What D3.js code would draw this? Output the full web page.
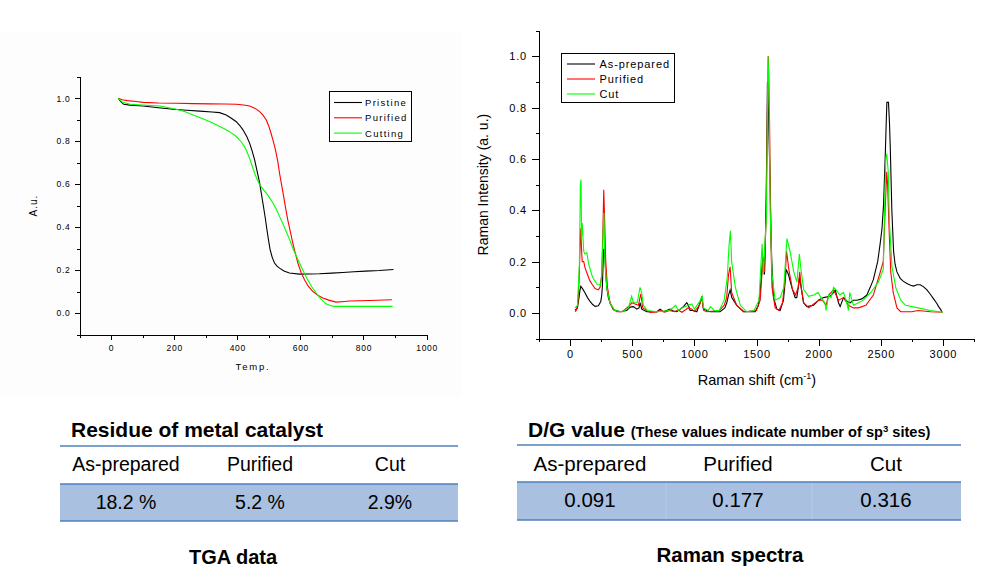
<!DOCTYPE html>
<html>
<head>
<meta charset="utf-8">
<script src="https://cdn.jsdelivr.net/npm/d3@7/dist/d3.min.js"></script>
<style>
html,body{margin:0;padding:0;background:#fff;}
svg{display:block;font-family:"Liberation Sans",Arial,sans-serif;}
</style>
</head>
<body>
<svg id="chart" width="1006" height="574"></svg>
<script>
// ---------- TGA data (temperature, weight fraction) ----------
const tgaSeries = ["Pristine", "Purified", "Cutting"];
const tgaPristine = [[23,1.0],[30,0.985],[40,0.972],[60,0.968],[102,0.964],[150,0.956],[197,0.949],[240,0.944],[281,0.940],[320,0.936],[344,0.933],[365,0.922],[380,0.908],[397,0.891],[408,0.873],[418,0.853],[430,0.822],[439,0.791],[447,0.755],[455,0.713],[463,0.66],[471,0.605],[477,0.55],[483,0.496],[489,0.44],[494,0.388],[499,0.34],[504,0.295],[511,0.258],[518,0.233],[526,0.218],[534,0.209],[548,0.196],[565,0.186],[597,0.181],[660,0.183],[700,0.186],[734,0.189],[770,0.192],[807,0.195],[850,0.198],[895,0.203]];
const tgaPurified = [[23,1.0],[35,0.993],[52,0.989],[80,0.985],[102,0.981],[150,0.978],[207,0.977],[260,0.975],[313,0.974],[360,0.973],[397,0.972],[420,0.969],[439,0.964],[457,0.953],[471,0.938],[482,0.92],[492,0.899],[500,0.87],[507,0.837],[514,0.8],[521,0.760],[528,0.71],[534,0.651],[540,0.6],[547,0.543],[553,0.49],[560,0.434],[568,0.38],[576,0.326],[584,0.278],[592,0.233],[602,0.19],[613,0.155],[625,0.125],[639,0.101],[655,0.083],[671,0.070],[690,0.060],[713,0.051],[740,0.054],[755,0.056],[820,0.058],[890,0.062]];
const tgaCutting = [[23,1.0],[35,0.983],[60,0.972],[100,0.968],[155,0.964],[207,0.949],[235,0.937],[260,0.922],[287,0.907],[313,0.891],[340,0.872],[365,0.853],[380,0.840],[397,0.822],[411,0.800],[423,0.775],[431,0.750],[439,0.721],[447,0.686],[455,0.651],[463,0.622],[471,0.597],[481,0.578],[492,0.558],[503,0.535],[513,0.512],[524,0.482],[534,0.450],[545,0.415],[555,0.380],[566,0.342],[576,0.302],[587,0.266],[597,0.233],[610,0.193],[623,0.155],[636,0.122],[650,0.093],[665,0.066],[681,0.043],[695,0.035],[707,0.031],[800,0.031],[892,0.031]];
const tgaXMajor = [0,200,400,600,800,1000];
const tgaXMinor = [-100,100,300,500,700,900];
const tgaYMajor = [0.0,0.2,0.4,0.6,0.8,1.0];
const tgaYMinor = [-0.1,0.1,0.3,0.5,0.7,0.9,1.1];

// ---------- Raman data (shift cm-1, intensity a.u.) ----------
const ramanSeries = ["As-prepared", "Purified", "Cut"];
const ramanAsPrepared = [[40,0.01],[59,0.02],[72,0.06],[80,0.09],[86,0.104],[100,0.095],[121,0.078],[140,0.06],[161,0.045],[180,0.034],[201,0.026],[228,0.028],[247,0.045],[255,0.07],[260,0.104],[265,0.18],[270,0.25],[276,0.24],[282,0.207],[288,0.15],[295,0.10],[308,0.06],[322,0.039],[349,0.013],[402,0.005],[456,0.01],[483,0.023],[510,0.025],[537,0.015],[555,0.02],[563,0.04],[577,0.015],[617,0.005],[698,0.005],[724,0.015],[751,0.005],[805,0.015],[830,0.008],[859,0.005],[912,0.025],[939,0.04],[952,0.03],[966,0.01],[993,0.01],[1020,0.005],[1046,0.04],[1060,0.065],[1073,0.015],[1127,0.005],[1207,0.005],[1245,0.02],[1261,0.04],[1275,0.07],[1288,0.09],[1301,0.06],[1341,0.03],[1395,0.005],[1489,0.005],[1515,0.03],[1529,0.08],[1545,0.18],[1551,0.22],[1564,0.15],[1572,0.3],[1578,0.45],[1584,0.7],[1588,0.9],[1594,0.86],[1600,0.7],[1610,0.5],[1617,0.3],[1623,0.2],[1637,0.06],[1664,0.015],[1690,0.01],[1717,0.05],[1730,0.12],[1739,0.17],[1757,0.15],[1784,0.10],[1811,0.06],[1824,0.06],[1840,0.11],[1846,0.14],[1859,0.10],[1878,0.04],[1905,0.025],[1959,0.03],[1999,0.05],[2039,0.06],[2093,0.065],[2120,0.08],[2133,0.09],[2160,0.04],[2173,0.025],[2200,0.06],[2230,0.045],[2254,0.04],[2280,0.05],[2307,0.05],[2348,0.055],[2388,0.07],[2415,0.1],[2440,0.13],[2455,0.16],[2475,0.2],[2495,0.27],[2510,0.33],[2522,0.42],[2535,0.6],[2545,0.76],[2549,0.82],[2562,0.82],[2570,0.74],[2576,0.65],[2589,0.4],[2603,0.24],[2615,0.19],[2630,0.16],[2656,0.135],[2680,0.124],[2710,0.115],[2740,0.108],[2764,0.105],[2790,0.11],[2817,0.11],[2845,0.102],[2871,0.09],[2900,0.072],[2925,0.055],[2950,0.038],[2965,0.025],[2980,0.015],[2992,0.005]];
const ramanPurified = [[40,0.005],[50,0.01],[60,0.03],[66,0.07],[72,0.12],[80,0.25],[86,0.33],[92,0.25],[98,0.2],[110,0.2],[121,0.175],[140,0.15],[160,0.125],[180,0.11],[201,0.095],[228,0.09],[241,0.10],[255,0.15],[263,0.3],[271,0.48],[279,0.35],[287,0.2],[301,0.1],[322,0.04],[350,0.015],[376,0.005],[420,0.005],[456,0.02],[480,0.03],[496,0.04],[523,0.035],[550,0.03],[569,0.075],[585,0.02],[644,0.002],[700,0.004],[730,0.01],[760,0.003],[800,0.01],[840,0.005],[870,0.012],[900,0.003],[950,0.02],[980,0.015],[1000,0.005],[1040,0.03],[1060,0.06],[1075,0.01],[1100,0.005],[1200,0.01],[1240,0.03],[1260,0.06],[1275,0.15],[1288,0.18],[1300,0.08],[1340,0.03],[1400,0.005],[1500,0.01],[1530,0.05],[1550,0.2],[1565,0.16],[1578,0.4],[1588,0.8],[1595,1.0],[1605,0.75],[1615,0.3],[1625,0.1],[1650,0.02],[1680,0.01],[1710,0.04],[1730,0.14],[1742,0.24],[1760,0.17],[1790,0.09],[1815,0.07],[1835,0.1],[1848,0.16],[1860,0.1],[1880,0.04],[1920,0.02],[1960,0.035],[2000,0.05],[2030,0.05],[2060,0.03],[2080,0.07],[2120,0.09],[2160,0.05],[2200,0.06],[2240,0.03],[2280,0.02],[2320,0.02],[2380,0.03],[2440,0.07],[2490,0.15],[2520,0.2],[2535,0.4],[2548,0.55],[2555,0.5],[2565,0.35],[2580,0.16],[2600,0.08],[2630,0.02],[2660,0.005],[2750,0.005],[2800,0.01],[2900,0.005],[3000,0.003]];
const ramanCut = [[40,0.02],[60,0.03],[75,0.19],[83,0.5],[88,0.52],[93,0.3],[98,0.35],[110,0.24],[120,0.23],[135,0.235],[150,0.19],[180,0.14],[220,0.11],[245,0.11],[255,0.15],[265,0.3],[272,0.39],[280,0.2],[295,0.1],[320,0.04],[360,0.01],[420,0.005],[470,0.02],[495,0.065],[510,0.04],[540,0.04],[563,0.1],[575,0.08],[590,0.03],[620,0.01],[700,0.005],[800,0.01],[850,0.03],[870,0.01],[900,0.02],[950,0.03],[980,0.035],[1000,0.015],[1050,0.05],[1063,0.065],[1075,0.02],[1110,0.01],[1130,0.025],[1160,0.01],[1200,0.01],[1240,0.05],[1265,0.14],[1280,0.27],[1290,0.32],[1300,0.2],[1330,0.1],[1370,0.03],[1420,0.005],[1480,0.01],[1520,0.05],[1545,0.27],[1555,0.15],[1580,0.38],[1593,1.0],[1600,0.9],[1610,0.4],[1625,0.15],[1650,0.05],[1690,0.06],[1720,0.1],[1745,0.29],[1770,0.24],[1800,0.16],[1825,0.12],[1845,0.23],[1860,0.16],[1880,0.09],[1920,0.065],[1960,0.07],[1995,0.08],[2020,0.06],[2050,0.04],[2060,0.01],[2080,0.07],[2100,0.06],[2120,0.1],[2140,0.09],[2170,0.07],[2200,0.08],[2220,0.05],[2240,0.01],[2250,0.08],[2280,0.03],[2320,0.04],[2360,0.05],[2420,0.08],[2480,0.12],[2520,0.17],[2540,0.6],[2548,0.62],[2560,0.55],[2570,0.35],[2590,0.18],[2620,0.1],[2660,0.05],[2700,0.03],[2800,0.02],[2900,0.01],[3000,0.003]];
const ramanXMajor = [0,500,1000,1500,2000,2500,3000];
const ramanXMinor = [-250,250,750,1250,1750,2250,2750,3250];
const ramanYMajor = [0.0,0.2,0.4,0.6,0.8,1.0];
const ramanYMinor = [-0.1,0.1,0.3,0.5,0.7,0.9,1.1];

// ---------- tables ----------
const tableCategories = ["As-prepared", "Purified", "Cut"];
const residueValues = ["18.2 %", "5.2 %", "2.9%"];
const dgValues = ["0.091", "0.177", "0.316"];

const colors = ["#000000", "#ff0000", "#00ff00"];

const svg = d3.select("#chart");

// very light background panel behind TGA plot
svg.append("rect").attr("x",0).attr("y",33).attr("width",462).attr("height",364).attr("fill","#fdfdfd");

function drawAxes(g, x, y, opt){
  const fontCss = `font-size:${opt.font}px;letter-spacing:${opt.ls}px;font-family:"Liberation Sans",Arial,sans-serif`;
  const y0 = y.range()[0];
  const x0 = x.range()[0];
  g.append("g").attr("transform",`translate(0,${y0})`)
    .call(d3.axisBottom(x).tickValues(opt.xMajor).tickSize(opt.major).tickSizeOuter(0).tickPadding(opt.xPad).tickFormat(d3.format("d")));
  g.append("g").attr("transform",`translate(0,${y0})`)
    .call(d3.axisBottom(x).tickValues(opt.xMinor).tickSize(opt.minor).tickFormat("")).select(".domain").remove();
  g.append("g").attr("transform",`translate(${x0},0)`)
    .call(d3.axisLeft(y).tickValues(opt.yMajor).tickSize(opt.major).tickSizeOuter(0).tickPadding(opt.yPad).tickFormat(d3.format(".1f")));
  g.append("g").attr("transform",`translate(${x0},0)`)
    .call(d3.axisLeft(y).tickValues(opt.yMinor).tickSize(opt.minor).tickFormat("")).select(".domain").remove();
  g.selectAll(".tick text").attr("style",fontCss).attr("fill","#000");
  g.selectAll(".domain, .tick line").attr("stroke","#000").attr("stroke-width",1).attr("shape-rendering","crispEdges");
}

// ================= TGA chart =================
const xL = d3.scaleLinear().domain([-100,1000]).range([79.5,426.6]);
const yL = d3.scaleLinear().domain([-0.1,1.1]).range([334.5,76.8]);
const gL = svg.append("g");
drawAxes(gL, xL, yL, {xMajor:tgaXMajor,xMinor:tgaXMinor,yMajor:tgaYMajor,yMinor:tgaYMinor,major:5,minor:3,font:8.5,ls:0.7,xPad:5,yPad:4});

const lineL = d3.line().x(d=>xL(d[0])).y(d=>yL(d[1]));
[tgaPristine,tgaPurified,tgaCutting].forEach((s,i)=>{
  gL.append("path").datum(s).attr("d",lineL).attr("fill","none").attr("stroke",colors[i]).attr("stroke-width",1.1);
});

gL.append("text").attr("transform",`translate(37,${yL(0.5)}) rotate(-90)`).attr("text-anchor","middle")
  .attr("font-size",10).attr("letter-spacing",1).text("A.u.");
gL.append("text").attr("x",xL(450)).attr("y",370).attr("text-anchor","middle")
  .attr("font-size",9.5).attr("letter-spacing",1.8).text("Temp.");

const legL = gL.append("g");
legL.append("rect").attr("x",329.5).attr("y",91.5).attr("width",82).attr("height",50).attr("fill","#fff").attr("stroke","#000").attr("stroke-width",1).attr("shape-rendering","crispEdges");
tgaSeries.forEach((n,i)=>{
  const yy = 102.5 + i*15.3;
  legL.append("line").attr("x1",334).attr("x2",362).attr("y1",yy).attr("y2",yy).attr("stroke",colors[i]).attr("stroke-width",1.1);
  legL.append("text").attr("x",365).attr("y",yy+3.5).attr("font-size",9.5).attr("letter-spacing",1.3).text(n);
});

// ================= Raman chart =================
const xR = d3.scaleLinear().domain([-250,3250]).range([539,974]);
const yR = d3.scaleLinear().domain([-0.1,1.1]).range([338.7,30.5]);
const gR = svg.append("g");
drawAxes(gR, xR, yR, {xMajor:ramanXMajor,xMinor:ramanXMinor,yMajor:ramanYMajor,yMinor:ramanYMinor,major:7,minor:3.5,font:11,ls:0.8,xPad:5,yPad:5});

const lineR = d3.line().x(d=>xR(d[0])).y(d=>yR(d[1]));
[ramanAsPrepared,ramanPurified,ramanCut].forEach((s,i)=>{
  gR.append("path").datum(s).attr("d",lineR).attr("fill","none").attr("stroke",colors[i]).attr("stroke-width",1.1).attr("stroke-linejoin","miter");
});

gR.append("text").attr("transform",`translate(488,${yR(0.5)}) rotate(-90)`).attr("text-anchor","middle")
  .attr("font-size",14).text("Raman Intensity (a. u.)");
const xt = gR.append("text").attr("x",757).attr("y",385).attr("text-anchor","middle").attr("font-size",14.5);
xt.append("tspan").text("Raman shift (cm");
xt.append("tspan").attr("font-size",9).attr("dy",-6).text("-1");
xt.append("tspan").attr("dy",6).text(")");

const legR = gR.append("g");
legR.append("rect").attr("x",561.5).attr("y",53.5).attr("width",113).attr("height",49).attr("fill","#fff").attr("stroke","#000").attr("stroke-width",1).attr("shape-rendering","crispEdges");
ramanSeries.forEach((n,i)=>{
  const yy = 64 + i*15;
  legR.append("line").attr("x1",567).attr("x2",595).attr("y1",yy).attr("y2",yy).attr("stroke",colors[i]).attr("stroke-width",1.1);
  legR.append("text").attr("x",599.5).attr("y",yy+4).attr("font-size",11).attr("letter-spacing",0.9).text(n);
});

// ================= Tables =================
const lineBlue = "#4f81bd", fillBlue = "#a9c0e0";

function drawTable(cfg){
  const g = svg.append("g");
  g.append("line").attr("x1",cfg.x0).attr("x2",cfg.x1).attr("y1",cfg.lineY).attr("y2",cfg.lineY).attr("stroke",lineBlue).attr("stroke-width",1.3);
  g.append("rect").attr("x",cfg.x0).attr("y",cfg.rowTop).attr("width",cfg.x1-cfg.x0).attr("height",cfg.rowBot-cfg.rowTop).attr("fill",fillBlue);
  if (cfg.dividers) cfg.dividers.forEach(dx=>{
    g.append("line").attr("x1",dx).attr("x2",dx).attr("y1",cfg.rowTop).attr("y2",cfg.rowBot).attr("stroke","#b9cbe6").attr("stroke-width",1);
  });
  [cfg.rowTop,cfg.rowBot].forEach(yy=>g.append("line").attr("x1",cfg.x0).attr("x2",cfg.x1).attr("y1",yy).attr("y2",yy).attr("stroke",lineBlue).attr("stroke-width",1.3));
  tableCategories.forEach((c,i)=>{
    g.append("text").attr("x",cfg.cols[i]).attr("y",cfg.headY).attr("text-anchor","middle").attr("font-size",cfg.font).text(c);
    g.append("text").attr("x",cfg.cols[i]).attr("y",cfg.valY).attr("text-anchor","middle").attr("font-size",cfg.font).text(cfg.values[i]);
  });
  return g;
}

drawTable({x0:60,x1:458,lineY:446,rowTop:484,rowBot:521,cols:[126,260,390],headY:471,valY:509,font:19.5,values:residueValues});
svg.append("text").attr("x",71).attr("y",437).attr("font-size",21).attr("font-weight","bold").text("Residue of metal catalyst");
svg.append("text").attr("x",233).attr("y",564).attr("text-anchor","middle").attr("font-size",20).attr("font-weight","bold").text("TGA data");

drawTable({x0:517,x1:961,lineY:445,rowTop:482,rowBot:520,cols:[590,738,886],headY:471,valY:507,font:20.5,values:dgValues,dividers:[666,812]});
const dg = svg.append("text").attr("x",528).attr("y",437).attr("font-weight","bold");
dg.append("tspan").attr("font-size",21).text("D/G value ");
dg.append("tspan").attr("font-size",14.6).text("(These values indicate number of sp");
dg.append("tspan").attr("font-size",9.5).attr("dy",-5).text("3");
dg.append("tspan").attr("font-size",14.6).attr("dy",5).text(" sites)");
svg.append("text").attr("x",730).attr("y",562).attr("text-anchor","middle").attr("font-size",20.5).attr("font-weight","bold").text("Raman spectra");
</script>
</body>
</html>
